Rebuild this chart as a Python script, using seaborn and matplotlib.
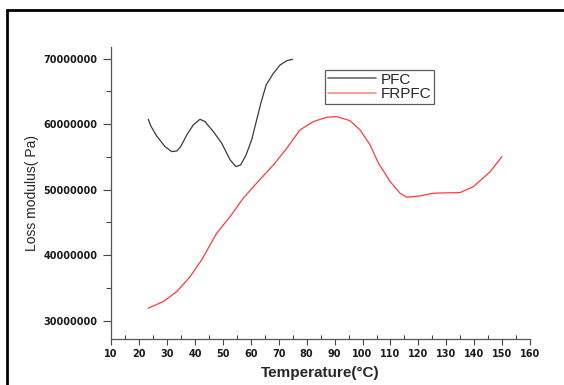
import matplotlib
matplotlib.use("Agg")
import matplotlib.pyplot as plt
import matplotlib.ticker as mticker
from matplotlib.lines import Line2D
import pandas as pd
import seaborn as sns

# Data
pfc_temp = [23.3, 24.2, 26.3, 29.3, 31.7, 33.5, 34.9, 37.1, 39.4, 41.8, 43.6, 46.6, 49.6, 51.1,
            52.6, 54.7, 56.4, 58.3, 60.3, 62.1, 63.6, 65.5, 68.1, 70.5, 72.9, 75.0]
pfc_loss = [60.76e6, 59.74e6, 58.21e6, 56.58e6, 55.82e6, 55.92e6, 56.58e6, 58.37e6, 59.89e6, 60.76e6,
            60.40e6, 58.87e6, 57.10e6, 55.82e6, 54.55e6, 53.53e6, 53.79e6, 55.31e6, 57.60e6, 60.66e6,
            63.21e6, 66.00e6, 67.79e6, 69.05e6, 69.71e6, 69.92e6]

frpfc_temp = [23.3, 28.7, 33.5, 38.3, 42.4, 47.8, 52.6, 57.3, 61.5, 68.1, 72.9, 77.6, 82.4, 87.2,
              90.8, 95.5, 99.1, 102.7, 105.7, 109.9, 113.4, 115.8, 120.6, 125.4, 134.9, 139.7,
              145.7, 149.9]
frpfc_loss = [31.91e6, 32.92e6, 34.44e6, 36.73e6, 39.28e6, 43.36e6, 45.89e6, 48.70e6, 50.73e6, 53.79e6,
              56.34e6, 59.13e6, 60.40e6, 61.07e6, 61.16e6, 60.55e6, 59.13e6, 56.84e6, 54.05e6, 51.24e6,
              49.47e6, 48.85e6, 49.05e6, 49.47e6, 49.56e6, 50.47e6, 52.76e6, 55.05e6]

series_names = ["PFC", "FRPFC"]
x_ticks = list(range(10, 161, 10))
y_ticks = [30000000, 40000000, 50000000, 60000000, 70000000]

df = pd.concat([
    pd.DataFrame({"Temperature": pfc_temp, "Loss": pfc_loss, "Sample": series_names[0]}),
    pd.DataFrame({"Temperature": frpfc_temp, "Loss": frpfc_loss, "Sample": series_names[1]}),
])

sns.set_style("white")
plt.rcParams["font.family"] = ["Liberation Sans", "DejaVu Sans"]

fig = plt.figure(figsize=(5.64, 3.85), dpi=100)
ax = fig.add_axes([0.197, 0.1195, 0.743, 0.7585])

line_colors = {"PFC": "#3a3a3a", "FRPFC": "#ff3b3b"}
sns.lineplot(data=df, x="Temperature", y="Loss", hue="Sample", palette=line_colors,
             sort=False, estimator=None, linewidth=0.9, ax=ax, legend=False)

ax.set_xlim(10, 160)
ax.set_ylim(27.2e6, 71.8e6)
ax.set_xticks(x_ticks)
ax.set_yticks(y_ticks)
ax.xaxis.set_minor_locator(mticker.MultipleLocator(5))
ax.yaxis.set_minor_locator(mticker.MultipleLocator(5e6))
tick_font = dict(fontsize=7, fontweight="bold", color="#1a1a1a", family="DejaVu Sans")
ax.set_xticklabels([str(t) for t in x_ticks], **tick_font)
ax.set_yticklabels([str(t) for t in y_ticks], **tick_font)
ax.tick_params(axis="x", which="major", direction="out", length=4, width=0.8, color="#444444", pad=3, bottom=True)
ax.tick_params(axis="y", which="major", direction="out", length=6, width=0.8, color="#444444", pad=4, left=True)
ax.tick_params(axis="x", which="minor", direction="in", length=3, width=0.8, color="#444444", bottom=True)
ax.tick_params(axis="y", which="minor", direction="out", length=3.5, width=0.8, color="#444444", left=True)

for s in ["top", "right"]:
    ax.spines[s].set_visible(False)
for s in ["left", "bottom"]:
    ax.spines[s].set_color("#555555")
    ax.spines[s].set_linewidth(0.9)

ax.set_xlabel("Temperature(°C)", fontsize=11, fontweight="bold", labelpad=5)
ax.set_ylabel("Loss modulus( Pa)", fontsize=10, labelpad=3)

handles = [Line2D([0], [0], color="#6a6a6a", lw=1.2), Line2D([0], [0], color="#ff8a8a", lw=1.2)]
leg = ax.legend(handles, series_names, loc="upper left", bbox_to_anchor=(0.511, 0.92),
                borderaxespad=0, fontsize=11, frameon=True, fancybox=False,
                handlelength=3.2, handletextpad=0.3, labelspacing=0.05, borderpad=0.15)
leg.get_frame().set_edgecolor("#333333")
leg.get_frame().set_linewidth(0.9)

# Partial outer frame (top and left)
fig.add_artist(Line2D([0.0124, 1.0], [0.974, 0.974], transform=fig.transFigure, color="black", lw=2))
fig.add_artist(Line2D([0.0124, 0.0124], [0.0, 0.974], transform=fig.transFigure, color="black", lw=2))

fig.savefig("out.png", dpi=100)
